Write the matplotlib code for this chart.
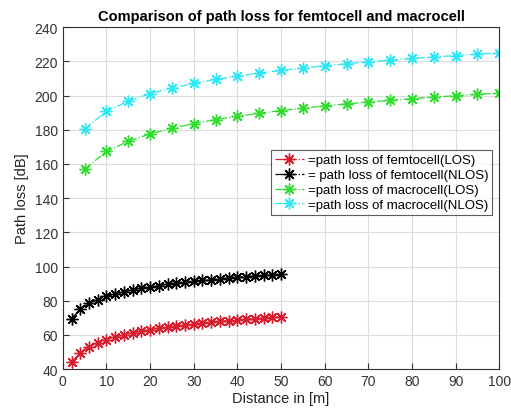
import matplotlib
matplotlib.use("Agg")
import matplotlib.pyplot as plt

d_femto = [2, 4, 6, 8, 10, 12, 14, 16, 18, 20, 22, 24, 26, 28, 30, 32, 34, 36, 38, 40, 42, 44, 46, 48, 50]
femto_los = [44.0, 49.7, 53.1, 55.4, 57.3, 58.8, 60.1, 61.2, 62.1, 63.0, 63.8, 64.5, 65.2, 65.8, 66.3,
             66.9, 67.4, 67.9, 68.3, 68.7, 69.1, 69.5, 69.9, 70.2, 70.6]
femto_nlos = [69.5, 75.1, 78.4, 80.7, 82.5, 84.0, 85.2, 86.3, 87.2, 88.1, 88.9, 89.6, 90.2, 90.8, 91.4,
              91.9, 92.4, 92.8, 93.3, 93.7, 94.1, 94.5, 94.8, 95.2, 95.5]

d_macro = [5, 10, 15, 20, 25, 30, 35, 40, 45, 50, 55, 60, 65, 70, 75, 80, 85, 90, 95, 100]
macro_los = [157.0, 167.3, 173.3, 177.6, 180.9, 183.6, 185.9, 187.9, 189.6, 191.2, 192.6, 193.9, 195.1,
             196.2, 197.2, 198.2, 199.1, 199.9, 200.7, 201.5]
macro_nlos = [180.5, 190.8, 196.8, 201.1, 204.4, 207.1, 209.4, 211.4, 213.1, 214.7, 216.1, 217.4, 218.6,
              219.7, 220.7, 221.7, 222.6, 223.4, 224.2, 225.0]

labels = ["=path loss of femtocell(LOS)", "= path loss of femtocell(NLOS)",
          "=path loss of macrocell(LOS)", "=path loss of macrocell(NLOS)"]
colors = ["#d81e2e", "#000000", "#2fdc2f", "#30e6f2"]

xticks = [0, 10, 20, 30, 40, 50, 60, 70, 80, 90, 100]
yticks = [40, 60, 80, 100, 120, 140, 160, 180, 200, 220, 240]

plt.rcParams['font.family'] = ['Liberation Sans', 'DejaVu Sans']
fig = plt.figure(figsize=(5.11, 4.14), dpi=100)
ax = fig.add_axes([0.123, 0.106, 0.854, 0.826])

series = [(d_femto, femto_los), (d_femto, femto_nlos), (d_macro, macro_los), (d_macro, macro_nlos)]
for (x, y), lab, c in zip(series, labels, colors):
    ax.plot(x, y, linestyle='-.', color=c, marker=(8, 2, 0), markersize=8.5, markeredgewidth=1.0,
            linewidth=0.9, label=lab)

ax.set_xlim(0, 100)
ax.set_ylim(40, 240)
ax.set_xticks(xticks)
ax.set_yticks(yticks)
ax.grid(True, color='#dcdcdc', linewidth=0.8)
ax.set_axisbelow(True)
ax.tick_params(direction='in', labelsize=10, colors='#333333', length=4)
for s in ax.spines.values():
    s.set_color('#333333')
    s.set_linewidth(0.8)
ax.set_xlabel("Distance in [m]", fontsize=10.5, color='#222222', labelpad=2)
ax.set_ylabel("Path loss [dB]", fontsize=10.5, color='#222222', labelpad=4)
ax.set_title("Comparison of path loss for femtocell and macrocell", fontsize=10.5, fontweight='bold', pad=5)

leg = ax.legend(loc='upper right', bbox_to_anchor=(0.984, 0.64), fontsize=9.5, frameon=True,
                fancybox=False, edgecolor='#333333', handlelength=2.2, handletextpad=0.3,
                borderpad=0.3, labelspacing=0.2, borderaxespad=0)
leg.get_frame().set_linewidth(0.8)

fig.savefig("out.png", dpi=100)
